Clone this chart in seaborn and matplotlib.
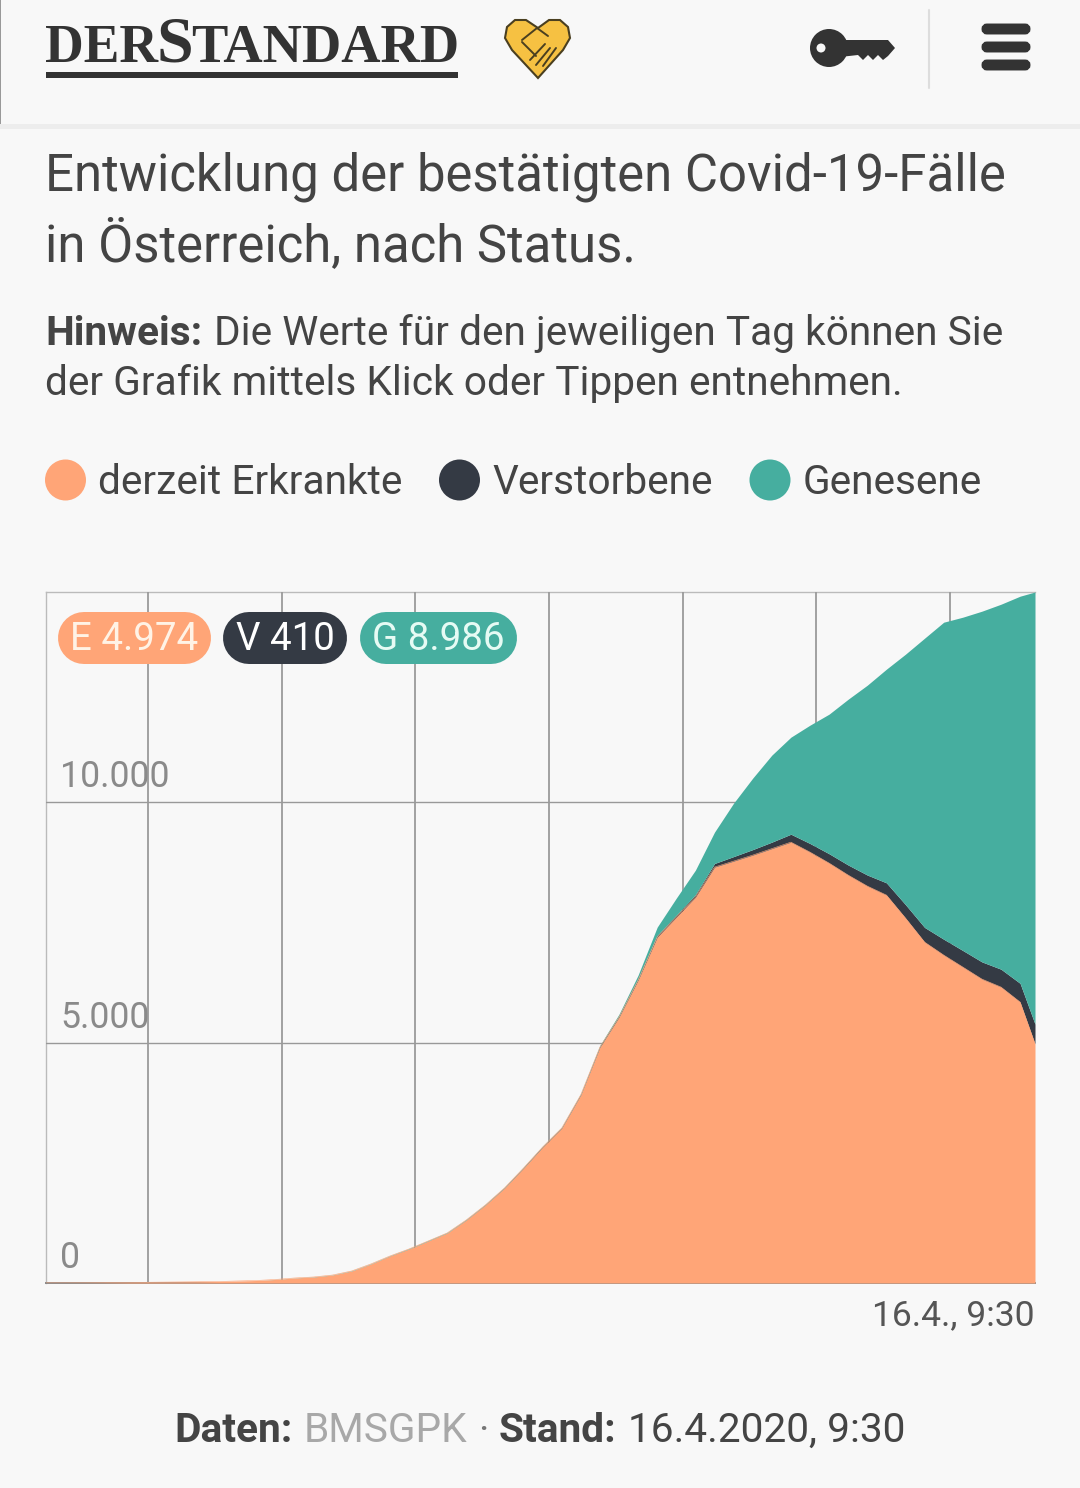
import matplotlib
matplotlib.use("Agg")
import matplotlib.pyplot as plt
import seaborn as sns
import pandas as pd
from matplotlib.patches import Circle, FancyBboxPatch, Polygon, Rectangle
from matplotlib.lines import Line2D

# ---------- data ----------
days = list(range(52)) + [51.78]
erkrankte = [2, 2, 3, 5, 9, 14, 18, 22, 26, 31, 42, 52, 73, 104, 125, 166, 250, 395, 561, 707,
             873, 1040, 1310, 1622, 1975, 2391, 2827, 3222, 3916, 4906, 5530, 6300, 7193, 7609,
             8025, 8649, 8773, 8898, 9033, 9168, 8960, 8732, 8482, 8254, 8067, 7588, 7089, 6819,
             6570, 6320, 6154, 5842, 4974]
verstorbene = [0, 0, 0, 0, 0, 0, 0, 0, 0, 0, 0, 0, 0, 0, 0, 0, 0, 0, 1, 1,
               1, 1, 3, 4, 6, 8, 10, 10, 12, 16, 20, 25, 35, 40,
               50, 75, 95, 115, 135, 165, 180, 195, 210, 230, 255, 280, 305, 330,
               345, 358, 372, 390, 410]
genesene = [0, 0, 0, 0, 0, 0, 0, 0, 0, 0, 0, 0, 2, 2, 4, 4, 6, 6, 6, 8,
            9, 9, 9, 9, 9, 9, 9, 9, 10, 20, 40, 78, 173, 355,
            511, 652, 1111, 1486, 1809, 2018, 2461, 2903, 3449, 3948, 4443, 5209, 6016, 6593,
            6931, 7293, 7590, 8051, 8986]
series_names = ["derzeit Erkrankte", "Verstorbene", "Genesene"]
series_colors = ["#FFA577", "#343A44", "#46AE9F"]
y_ticks = [0, 5000, 10000]
y_tick_labels = ["0", "5.000", "10.000"]
week_lines = [5.34, 12.34, 19.34, 26.34, 33.34, 40.34, 47.34]
pill_labels = ["E 4.974", "V 410", "G 8.986"]

BG = "#F8F8F8"
TXT = "#444444"
W, H = 1080, 1488

sns.set_theme(style="white")
plt.rcParams["font.family"] = ["Roboto", "DejaVu Sans"]

fig = plt.figure(figsize=(W / 100, H / 100), dpi=100, facecolor=BG)


def pt(px):
    return px * 0.72


# ---------- chart ----------
L, R, T, B = 46, 1035, 592, 1283
ax = fig.add_axes([L / W, 1 - B / H, (R - L) / W, (B - T) / H], facecolor=BG, zorder=1)
df = pd.DataFrame({"day": days, "E": erkrankte, "V": verstorbene, "G": genesene})
df["E+V"] = df["E"] + df["V"]
df["total"] = df["E+V"] + df["G"]

for x in week_lines:
    ax.axvline(x, color="#9A9A9A", lw=1.3, zorder=1)
for y in y_ticks[1:]:
    ax.axhline(y, color="#999999", lw=1.0, zorder=1)
ax.stackplot(df["day"], df["E"], df["V"], df["G"], colors=series_colors, lw=0, zorder=2)
sns.lineplot(data=df, x="day", y="E", color=series_colors[0], lw=0.4, ax=ax, zorder=3)
ax.set_xlim(0, 51.78)
ax.set_ylim(0, 14370)
ax.set_xticks([])
ax.set_yticks([])
ax.set_xlabel("")
ax.set_ylabel("")
for s, sp in ax.spines.items():
    sp.set_color("#BBBBBB")
    sp.set_linewidth(1.0)
    sp.set_zorder(0.5)
ax.spines["right"].set_visible(False)
ax.spines["bottom"].set_color("#888888")
ax.spines["bottom"].set_linewidth(1.4)
for y, lab in zip(y_ticks, y_tick_labels):
    ax.annotate(lab, xy=(0, y), xycoords=("axes fraction", "data"), xytext=(14, 25),
                textcoords="offset pixels", color="#8A8A8A", fontsize=pt(35.8), va="center",
                ha="left", zorder=5)

# ---------- page overlay in pixel coordinates ----------
ov = fig.add_axes([0, 0, 1, 1], facecolor="none", zorder=5)
ov.set_xlim(0, W)
ov.set_ylim(H, 0)
ov.axis("off")


def text(x, y, s, size, color=TXT, weight="normal", ha="left", family=None, va="baseline"):
    kw = {"family": family} if family else {}
    return ov.text(x, y, s, fontsize=pt(size), color=color, fontweight=weight, ha=ha, va=va, **kw)


# header
ov.add_patch(Rectangle((0, 124), W, 5, color="#EDEDED", lw=0))
ov.add_patch(Rectangle((0, 0), 1, 124, color="#999999", lw=0))
ov.add_line(Line2D([928.5, 928.5], [10, 88], color="#DDDDDD", lw=1.5))
serif = "Liberation Serif"
text(45, 62, "DER", 53.5, "#333333", weight="bold", family=serif)
text(156, 62, "S", 66, "#333333", weight="bold", family=serif)
text(191, 62, "TANDARD", 54.5, "#333333", weight="bold", family=serif)
ov.add_patch(Rectangle((46, 72), 412, 6, color="#333333", lw=0))
# heart with handshake
ov.add_patch(Polygon([(538, 78), (512, 50), (505, 38), (507, 27), (515, 20), (526, 20), (538, 28),
                      (549, 20), (560, 20), (568, 27), (570, 38), (563, 50)],
                     closed=True, fc="#F6C142", ec="#4A3F20", lw=1.5))
for xs, ys in [([522, 537, 548], [40, 28, 36]), ([522, 536], [42, 56]),
               ([530, 545], [60, 44]), ([536, 550], [65, 48]), ([543, 556], [66, 48])]:
    ov.add_line(Line2D(xs, ys, color="#4A3F20", lw=1.4))
# key
ov.add_patch(Circle((829, 48), 19, color="#333333", lw=0))
ov.add_patch(Polygon([(840, 40), (888, 40), (895, 48), (888, 56), (883, 60), (878, 55), (873, 60),
                      (868, 55), (863, 60), (858, 55), (840, 57)], closed=True, fc="#333333", ec="none"))
ov.add_patch(Circle((821, 48), 4.5, color=BG, lw=0))
# burger
for y in (24, 42, 60):
    ov.add_patch(FancyBboxPatch((985, y + 3), 42, 4, boxstyle="round,pad=0,rounding_size=2",
                                mutation_aspect=1, fc="#333333", ec="#333333", lw=5))

# titles
text(45, 191, "Entwicklung der bestätigten Covid-19-Fälle", 50.9)
text(45, 261, "in Österreich, nach Status.", 50.9)
text(45, 345, "Hinweis:", 40.6, weight="bold")
text(214, 345, "Die Werte für den jeweiligen Tag können Sie", 40.6)
text(45, 395, "der Grafik mittels Klick oder Tippen entnehmen.", 40.6)

# legend
for cx, tx, name, col in zip((65.5, 459.5, 770), (98.5, 492.5, 803), series_names, series_colors):
    ov.add_patch(Circle((cx, 480), 20.5, color=col, lw=0))
    text(tx, 494, name, 40.6)

# pills
for (x0, x1), lab, col, fg in zip([(58, 211), (223, 347), (360, 517)], pill_labels, series_colors,
                                  ["#FFF3E6", "#FFFFFF", "#E6FBF4"]):
    ov.add_line(Line2D([x0 + 26, x1 - 26], [638, 638], color=col, lw=pt(52),
                       solid_capstyle="round"))
    text((x0 + x1) / 2, 640, lab, 38.5, fg, ha="center", va="center")

# foot
text(1035, 1325, "16.4., 9:30", 35.5, "#555555", ha="right")
text(174.5, 1442, "Daten:", 40.6, weight="bold")
text(304, 1442, "BMSGPK", 40.6, "#A8A8A8")
text(478, 1442, "·", 40.6, "#777777")
text(499, 1442, "Stand:", 40.6, weight="bold")
text(628, 1442, "16.4.2020, 9:30", 40.6)

fig.savefig("out.png", dpi=100, facecolor=BG)
